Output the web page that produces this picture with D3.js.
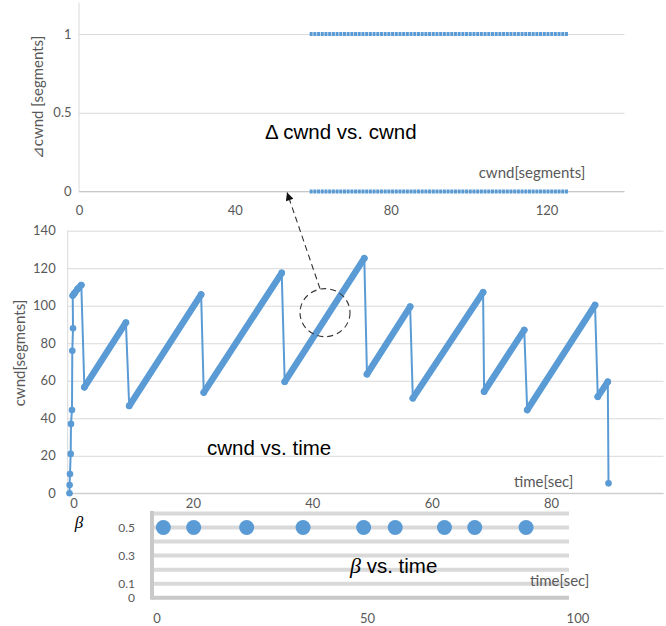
<!DOCTYPE html>
<html>
<head>
<meta charset="utf-8">
<script src="https://cdn.jsdelivr.net/npm/d3@7"></script>
<style>
    body { margin: 0; background: #fff; }
    svg { display: block; }
    .tick text { font-family: Lato, "Liberation Sans", sans-serif; font-size: 13px; fill: #595959; }
    .lbl { font-family: Lato, "Liberation Sans", sans-serif; font-size: 15px; fill: #595959; }
    .ttl { font-family: "Liberation Sans", Arial, sans-serif; font-size: 20.5px; fill: #000; }
</style>
</head>
<body>
<svg id="chart" width="666" height="626"></svg>
<script>
// Delta cwnd vs. cwnd
var deltaLevels = [1, 0];
var deltaCwndRange = [59.2, 125.5];
var topXTicks = [0, 40, 80, 120];
var topYTicks = [0, 0.5, 1];

// cwnd vs. time (vertices of the trace)
var cwndTime  = [0, 0.02, 0.08, 0.2, 0.25, 0.42, 0.47, 0.59, 0.54, 0.8, 1.38, 1.98, 2.49, 9.45, 10.0, 22.05, 22.49, 35.55, 36.05,
                 49.38, 49.83, 57.06, 57.51, 69.28, 69.45, 76.17, 76.67, 88.03, 88.49, 90.17, 90.29];
var cwndValue = [0, 4.4, 10.3, 21, 37, 44.4, 76, 88, 105.4, 106.5, 109, 111, 56.5, 91, 46.6, 106, 53.7, 117.5, 59.5,
                 125.3, 63.5, 99.5, 50.7, 107.2, 54.2, 87.1, 44.4, 100.4, 51.5, 59.5, 5.3];
var midXTicks = [0, 20, 40, 60, 80];
var midYTicks = [0, 20, 40, 60, 80, 100, 120, 140];

// beta vs. time
var betaTime  = [1.6, 8.8, 21.4, 34.8, 49.2, 56.7, 68.4, 75.6, 87.8];
var betaValue = [0.5, 0.5, 0.5, 0.5, 0.5, 0.5, 0.5, 0.5, 0.5];
var betaXTicks = [0, 50, 100];
var betaYTicks = [0, 0.1, 0.3, 0.5];
var betaGrid = [0.1, 0.2, 0.3, 0.4, 0.5, 0.6];

var blue = "#5b9bd5";
var svg = d3.select("#chart");
svg.append("rect").attr("width", 666).attr("height", 626).attr("fill", "#fff");

// ---------- top panel ----------
var x1 = d3.scaleLinear().domain([0, 140]).range([79, 624.5]);
var y1 = d3.scaleLinear().domain([0, 1.2]).range([191.5, 2.5]);

svg.append("g")
    .attr("transform", "translate(79,0)")
    .call(d3.axisLeft(y1).tickValues(topYTicks).tickSize(-(624.5 - 79)).tickPadding(7.5).tickFormat(d3.format("")))
    .call(function(g) { g.select(".domain").remove(); })
    .call(function(g) { g.selectAll(".tick line").attr("stroke", "#d9d9d9"); });
svg.append("line")
    .attr("x1", 79).attr("x2", 79).attr("y1", y1(1.2)).attr("y2", y1(0))
    .attr("stroke", "#d9d9d9");
svg.append("line")
    .attr("x1", 79).attr("x2", 624.5).attr("y1", y1(0)).attr("y2", y1(0))
    .attr("stroke", "#c8c8c8");
svg.append("g")
    .attr("transform", "translate(0," + y1(0) + ")")
    .call(d3.axisBottom(x1).tickValues(topXTicks).tickSize(0).tickPadding(14))
    .call(function(g) { g.select(".domain").remove(); });

var topLine = d3.line().x(function(d) { return x1(d[0]); }).y(function(d) { return y1(d[1]); });
svg.append("g").selectAll("path")
    .data(deltaLevels)
    .enter()
    .append("path")
        .attr("d", function(lv) { return topLine([[deltaCwndRange[0], lv], [deltaCwndRange[1], lv]]); })
        .attr("stroke", blue)
        .attr("stroke-width", 4)
        .attr("stroke-dasharray", "3,0.7")
        .attr("fill", "none");

svg.append("text").attr("class", "lbl")
    .attr("transform", "translate(43,97.5) rotate(-90)")
    .style("text-anchor", "middle")
    .text("⊿cwnd [segments]");
svg.append("text").attr("class", "lbl")
    .attr("x", 532).attr("y", 178)
    .style("text-anchor", "middle")
    .text("cwnd[segments]");
svg.append("text").attr("class", "ttl")
    .attr("x", 265).attr("y", 139)
    .text("Δ cwnd vs. cwnd");

// ---------- middle panel ----------
var x2 = d3.scaleLinear().domain([-0.3, 99.5]).range([67.7, 663.5]);
var y2 = d3.scaleLinear().domain([0, 140]).range([493.3, 230.7]);

svg.append("g")
    .attr("transform", "translate(67.7,0)")
    .call(d3.axisLeft(y2).tickValues(midYTicks).tickSize(-(663.5 - 67.7)).tickPadding(12))
    .call(function(g) { g.select(".domain").remove(); })
    .call(function(g) { g.selectAll(".tick line").attr("stroke", "#d9d9d9"); });
svg.append("line")
    .attr("x1", 67.7).attr("x2", 67.7).attr("y1", y2(140)).attr("y2", y2(0))
    .attr("stroke", "#d9d9d9");
svg.append("line")
    .attr("x1", 67.7).attr("x2", 663.5).attr("y1", y2(0)).attr("y2", y2(0))
    .attr("stroke", "#c8c8c8");
svg.append("g")
    .attr("transform", "translate(0," + y2(0) + ")")
    .call(d3.axisBottom(x2).tickValues(midXTicks).tickSize(0).tickPadding(5.5))
    .call(function(g) { g.select(".domain").remove(); })
    .call(function(g) { g.selectAll(".tick text").attr("dx", 4); });

var cwndPts = cwndTime.map(function(t, i) { return [t, cwndValue[i]]; });
var midLine = d3.line().x(function(d) { return x2(d[0]); }).y(function(d) { return y2(d[1]); });

svg.append("path")
    .attr("d", midLine(cwndPts))
    .attr("stroke", blue)
    .attr("stroke-width", 2)
    .attr("fill", "none");

// ramps are drawn with densely packed markers -> thick band
var ramps = [];
for (var i = 8; i < cwndPts.length - 1; i++) {
    if (cwndPts[i + 1][1] > cwndPts[i][1]) ramps.push([cwndPts[i], cwndPts[i + 1]]);
}
svg.append("g").selectAll("path")
    .data(ramps)
    .enter()
    .append("path")
        .attr("d", midLine)
        .attr("stroke", blue)
        .attr("stroke-width", 6.5)
        .attr("stroke-linecap", "round")
        .attr("fill", "none");
svg.append("g").selectAll("circle")
    .data(cwndPts)
    .enter()
    .append("circle")
        .attr("cx", function(d) { return x2(d[0]); })
        .attr("cy", function(d) { return y2(d[1]); })
        .attr("r", 3.3)
        .attr("fill", blue);

svg.append("text").attr("class", "lbl")
    .attr("transform", "translate(25,353) rotate(-90)")
    .style("text-anchor", "middle")
    .text("cwnd[segments]");
svg.append("text").attr("class", "lbl")
    .attr("x", 514).attr("y", 487)
    .text("time[sec]");
svg.append("text").attr("class", "ttl")
    .attr("x", 207).attr("y", 455)
    .text("cwnd vs. time");

// zoom annotation: dashed circle on cwnd trace, arrow up to the top panel
var circ = { cx: x2(42.8), cy: y2(96.3), rx: 25, ry: 24 };
svg.append("defs").append("marker")
    .attr("id", "arrow")
    .attr("viewBox", "0 0 10 10")
    .attr("refX", 10).attr("refY", 5)
    .attr("markerWidth", 11).attr("markerHeight", 8)
    .attr("markerUnits", "userSpaceOnUse")
    .attr("orient", "auto")
    .append("path")
        .attr("d", "M0,0L10,5L0,10z")
        .attr("fill", "#111");
svg.append("ellipse")
    .attr("cx", circ.cx).attr("cy", circ.cy)
    .attr("rx", circ.rx).attr("ry", circ.ry)
    .attr("fill", "none")
    .attr("stroke", "#333")
    .attr("stroke-width", 1.1)
    .attr("stroke-dasharray", "6,4");
svg.append("line")
    .attr("x1", circ.cx - 5).attr("y1", circ.cy - circ.ry)
    .attr("x2", x1(53.4)).attr("y2", y1(0) + 1)
    .attr("stroke", "#333")
    .attr("stroke-width", 1.1)
    .attr("stroke-dasharray", "6,4")
    .attr("marker-end", "url(#arrow)");

// ---------- bottom panel ----------
var x3 = d3.scaleLinear().domain([-1.1, 98]).range([152, 569]);
var y3 = d3.scaleLinear().domain([0, 0.6]).range([597.7, 513.5]);

svg.append("g").selectAll("line")
    .data(betaGrid)
    .enter()
    .append("line")
        .attr("x1", x3(-1.1)).attr("x2", x3(98))
        .attr("y1", function(d) { return y3(d); })
        .attr("y2", function(d) { return y3(d); })
        .attr("stroke", "#d9d9d9")
        .attr("stroke-width", 4);
svg.append("line")
    .attr("x1", 152).attr("x2", 569).attr("y1", y3(0)).attr("y2", y3(0))
    .attr("stroke", "#c9c9c9").attr("stroke-width", 4);
svg.append("line")
    .attr("x1", 152).attr("x2", 152).attr("y1", 511).attr("y2", 599.7)
    .attr("stroke", "#c9c9c9").attr("stroke-width", 4);

svg.append("g")
    .attr("transform", "translate(152,0)")
    .call(d3.axisLeft(y3).tickValues(betaYTicks).tickSize(0).tickPadding(17).tickFormat(d3.format("")))
    .call(function(g) { g.select(".domain").remove(); })
    .call(function(g) { g.selectAll(".tick text").style("font-size", "12px"); });
svg.append("g")
    .attr("transform", "translate(0," + y3(0) + ")")
    .call(d3.axisBottom(x3).tickValues(betaXTicks).tickSize(0).tickPadding(16))
    .call(function(g) { g.select(".domain").remove(); });

svg.append("g").selectAll("circle")
    .data(betaTime)
    .enter()
    .append("circle")
        .attr("cx", function(d) { return x3(d); })
        .attr("cy", function(d, i) { return y3(betaValue[i]); })
        .attr("r", 7.5)
        .attr("fill", blue);

svg.append("text")
    .attr("x", 79).attr("y", 528)
    .style("text-anchor", "middle")
    .style("font-family", "'Liberation Serif', serif")
    .style("font-style", "italic")
    .style("font-size", "17px")
    .text("β");
var bt = svg.append("text").attr("class", "ttl")
    .attr("x", 350).attr("y", 573);
bt.append("tspan")
    .style("font-family", "'Liberation Serif', serif")
    .style("font-style", "italic")
    .style("font-size", "22px")
    .text("β");
bt.append("tspan").text(" vs. time");
svg.append("text").attr("class", "lbl")
    .attr("x", 530).attr("y", 586)
    .text("time[sec]");
</script>
</body>
</html>
